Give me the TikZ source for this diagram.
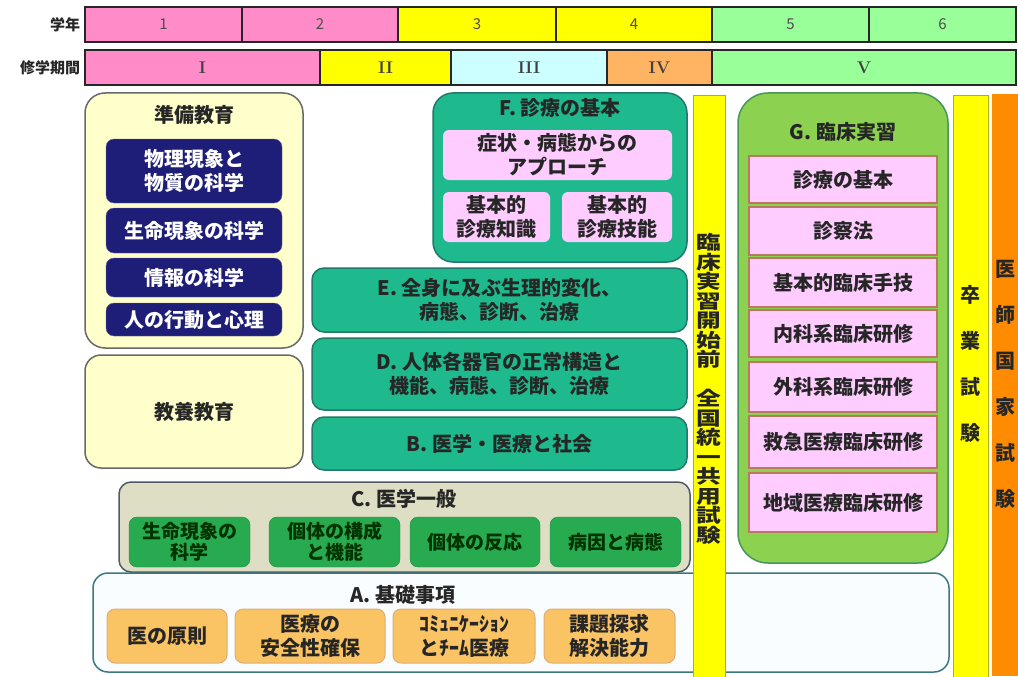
\documentclass[tikz,border=0pt]{standalone}
\usepackage{fontspec}
\setmainfont{Noto Sans CJK JP}
\newfontfamily\romanfont{Latin Modern Roman}
\definecolor{barpink}{RGB}{255,140,200}
\definecolor{baryellow}{RGB}{255,255,0}
\definecolor{barcyan}{RGB}{204,255,255}
\definecolor{barorange}{RGB}{255,180,100}
\definecolor{bargreen}{RGB}{153,255,153}
\definecolor{cream}{RGB}{255,255,204}
\definecolor{creamline}{RGB}{105,105,105}
\definecolor{prepblue}{RGB}{30,30,120}
\definecolor{clinteal}{RGB}{30,185,140}
\definecolor{clintealline}{RGB}{35,120,110}
\definecolor{softpink}{RGB}{255,204,255}
\definecolor{ggreen}{RGB}{140,210,80}
\definecolor{ggreenline}{RGB}{70,150,90}
\definecolor{rowline}{RGB}{185,120,95}
\definecolor{ckhaki}{RGB}{221,222,195}
\definecolor{cline}{RGB}{80,90,100}
\definecolor{cgreen}{RGB}{40,170,80}
\definecolor{cgreenline}{RGB}{30,140,70}
\definecolor{aline}{RGB}{60,120,130}
\definecolor{aorange}{RGB}{250,195,100}
\definecolor{aorangeline}{RGB}{220,175,120}
\definecolor{examorange}{RGB}{255,140,0}
\begin{document}
\begin{tikzpicture}
[x=1pt,y=-1pt,%
  every node/.style={inner sep=0pt,outer sep=0pt,align=center,text=black!85,
    font=\bfseries\fontsize{20}{24}\selectfont},%
  cell/.style={draw=black!85,line width=1.5pt,minimum height=35},%
  yearnum/.style={font=\fontsize{15}{18}\selectfont,text=black!70},%
  termnum/.style={font=\romanfont\bfseries\fontsize{17}{20}\selectfont,text=black!75},%
  sidelabel/.style={anchor=east,font=\bfseries\fontsize{15}{18}\selectfont},%
  creambox/.style={fill=cream,draw=creamline,line width=1.5pt,rounded corners=20pt},%
  prepbox/.style={fill=prepblue,draw=prepblue!70,rounded corners=8pt,text=white,minimum width=176},%
  tealbox/.style={fill=clinteal,draw=clintealline,line width=1.5pt,rounded corners=12pt,minimum width=375},%
  pinkbox/.style={fill=softpink,rounded corners=6pt,minimum height=50},%
  rowbox/.style={fill=softpink,draw=rowline,line width=1.5pt,minimum width=188},%
  cbox/.style={fill=cgreen,draw=cgreenline,rounded corners=8pt,minimum height=50,
    text=black!80!green,font=\bfseries\fontsize{19}{21}\selectfont},%
  abox/.style={fill=aorange,draw=aorangeline,line width=1pt,rounded corners=8pt,minimum height=54},%
  exambar/.style={draw=#1!70!black,fill=#1,minimum height=582},%
  vtext/.style={font=\bfseries\fontsize{20}{46}\selectfont}]
\useasboundingbox[fill=white] (0,0) rectangle (1018,677);
% school years and terms
\node[sidelabel] (yearlbl) at (80,25) {学年};
\node[sidelabel] (termlbl) at (80,68) {修学期間};
\foreach \n/\xa/\xb/\c in {1/85/242/barpink,2/242/398/barpink,3/398/556/baryellow,
    4/556/712/baryellow,5/712/869/bargreen,6/869/1016/bargreen}{
  \pgfmathsetmacro\w{\xb-\xa}
  \node[cell,fill=\c,minimum width=\w,yearnum] (yr\n) at ({(\xa+\xb)/2},24.5) {\n};
}
\foreach \n/\xa/\xb/\c/\t in {1/85/320/barpink/I,2/320/451/baryellow/II,3/451/607/barcyan/III,
    4/607/712/barorange/IV,5/712/1016/bargreen/V}{
  \pgfmathsetmacro\w{\xb-\xa}
  \node[cell,fill=\c,minimum width=\w,termnum] (term\n) at ({(\xa+\xb)/2},67.5) {\t};
}
% preparatory and liberal arts
\node[creambox,minimum width=218,minimum height=255] (prep) at (194,220.5) {};
\node (prepttl) at (194,115) {準備教育};
\node[prepbox,minimum height=64] (phys) at (194,171) {物理現象と\\物質の科学};
\node[prepbox,minimum height=45] (life) at (194,230.5) {生命現象の科学};
\node[prepbox,minimum height=39] (info) at (194,277.5) {情報の科学};
\node[prepbox,minimum height=33] (behav) at (194,319.5) {人の行動と心理};
\node[creambox,rounded corners=16pt,minimum width=218,minimum height=113] (liberal) at (194,411.5) {教養教育};
% F
\node[tealbox,rounded corners=20pt,minimum width=254,minimum height=169] (diagF) at (560,177.5) {};
\node (diagFttl) at (560,108) {F. 診療の基本};
\node[pinkbox,minimum width=229] (approach) at (557.5,155) {症状・病態からの\\アプローチ};
\node[pinkbox,minimum width=107] (knowledge) at (496.5,217) {基本的\\診療知識};
\node[pinkbox,minimum width=110] (skill) at (617,217) {基本的\\診療技能};
% E, D, B
\node[tealbox,minimum height=64] (secE) at (499.5,300) {E. 全身に及ぶ生理的変化、\\病態、診断、治療};
\node[tealbox,minimum height=72] (secD) at (499.5,374) {D. 人体各器官の正常構造と\\機能、病態、診断、治療};
\node[tealbox,minimum height=53] (secB) at (499.5,443.5) {B. 医学・医療と社会};
% C
\node[fill=ckhaki,draw=cline,line width=1.5pt,rounded corners=12pt,minimum width=571,minimum height=90] (secC) at (404.5,527) {};
\node (secCttl) at (404,499) {C. 医学一般};
\node[cbox,minimum width=121] (c1) at (189.5,542) {生命現象の\\科学};
\node[cbox,minimum width=131] (c2) at (334.5,542) {個体の構成\\と機能};
\node[cbox,minimum width=130] (c3) at (475,542) {個体の反応};
\node[cbox,minimum width=131] (c4) at (615.5,542) {病因と病態};
% A
\node[fill=cyan!2,draw=aline,line width=1.5pt,rounded corners=15pt,minimum width=856,minimum height=99] (secA) at (521,622.5) {};
\node (secAttl) at (403,595) {A. 基礎事項};
\node[abox,minimum width=120] (a1) at (167,636) {医の原則};
\node[abox,minimum width=150] (a2) at (310,636) {医療の\\安全性確保};
\node[abox,minimum width=142] (a3) at (464,636) {ｺﾐｭﾆｹｰｼｮﾝ\\とﾁｰﾑ医療};
\node[abox,minimum width=131] (a4) at (609.5,636) {課題探求\\解決能力};
% common achievement test
\node[exambar=baryellow,minimum width=32] (cbt) at (709,386) {};
\begin{scope}[shift={(709,389)},xscale=1.3]
\node[transform shape,font=\bfseries\fontsize{19}{19.5}\selectfont] (cbttext) at (0,0)
  {臨\\床\\実\\習\\開\\始\\前\\[19.5pt]全\\国\\統\\一\\共\\用\\試\\験};
\end{scope}
% G
\node[fill=ggreen,draw=ggreenline,line width=1.5pt,rounded corners=30pt,minimum width=210,minimum height=470] (secG) at (843,328) {};
\node (secGttl) at (843,132) {G. 臨床実習};
\foreach \n/\y/\h/\t in {1/179.5/47/診療の基本,2/231/48/診察法,3/282.5/49/基本的臨床手技,
    4/333.5/47/内科系臨床研修,5/387/50/外科系臨床研修,6/442/52/救急医療臨床研修,
    7/502.5/59/地域医療臨床研修}
  \node[rowbox,minimum height=\h] (grow\n) at (843,\y) {\t};
% final exams
\node[exambar=baryellow,minimum width=35] (gradbar) at (970.5,386) {};
\node[vtext] (grad) at (970.5,364) {卒\\業\\試\\験};
\node[exambar=examorange,draw=none,minimum width=26] (natbar) at (1005,385) {};
\node[vtext] (nat) at (1005,384) {医\\師\\国\\家\\試\\験};
\end{tikzpicture}
\end{document}
